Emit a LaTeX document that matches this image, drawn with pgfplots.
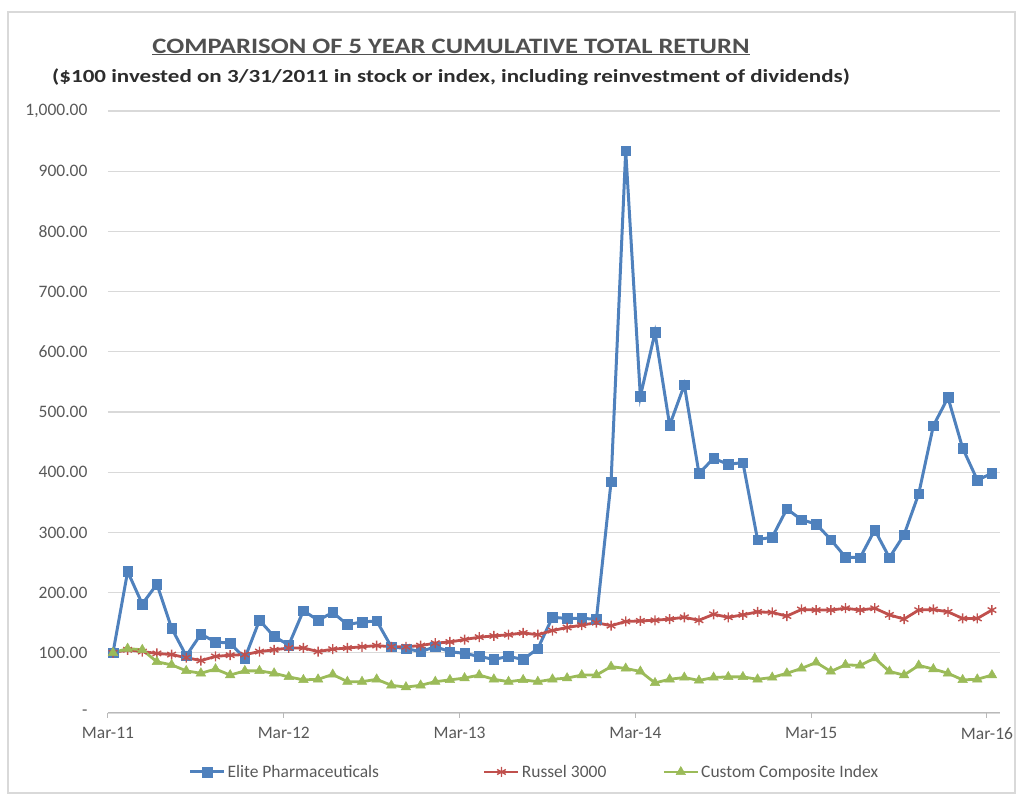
\documentclass[border=0pt]{standalone}
\usepackage{pgfplots}
\pgfplotsset{compat=1.18}
\usepackage{graphicx}
\usepackage{fontspec}
\setmainfont{Carlito}
\definecolor{cblue}{HTML}{4F81BD}
\definecolor{cred}{HTML}{C0504D}
\definecolor{cgreen}{HTML}{9BBB59}
\definecolor{tickgray}{HTML}{595959}
\definecolor{gridgray}{HTML}{D9D9D9}
\begin{document}
\begin{tikzpicture}
\path (-108pt,-82pt) rectangle (913pt,713pt);
\draw[gray!30, line width=1.2pt] (-100pt,-80pt) rectangle (907pt,701pt);
\begin{axis}[
  at={(0pt,0pt)}, anchor=south west,
  scale only axis, width=892pt, height=602pt,
  xmin=-0.34, xmax=60.55, ymin=0, ymax=1000,
  axis lines*=left,
  y axis line style={draw=none},
  x axis line style={color=gray!55, line width=1pt},
  xtick={-0.34,11.66,23.66,35.66,47.66,59.66},
  xticklabels={Mar-11,Mar-12,Mar-13,Mar-14,Mar-15,Mar-16},
  xtick align=outside, major tick length=5pt,
  xtick style={color=gray!55, line width=1pt},
  ytick={0,100,...,1000},
  yticklabels={{-\hspace{11pt}},100.00,200.00,300.00,400.00,500.00,600.00,700.00,800.00,900.00,{1,000.00}},
  ytick style={draw=none},
  ymajorgrids, grid style={gridgray, line width=1.3pt},
  tick label style={font=\fontsize{17.5}{20}\selectfont, text=tickgray},
  yticklabel style={xshift=-17pt},
  xticklabel style={yshift=-6pt},
  legend columns=3,
  legend style={at={(0.478,-0.098)}, anchor=center, draw=none, fill=none,
    font=\fontsize{17.5}{20}\selectfont, text=tickgray,
    /tikz/every even column/.append style={column sep=54pt}},
  legend image code/.code={\draw[#1, mark repeat=2, mark phase=2] plot coordinates {(0pt,0pt) (17pt,0pt) (34pt,0pt)};},
]
\addplot[cblue, line width=3pt, mark=square*, mark size=4.8pt, mark options={solid, line width=0.5pt}] coordinates {
(0,100)(1,235)(2,181)(3,214)(4,141)(5,95)(6,131)(7,118)(8,116)(9,91)
(10,154)(11,127)(12,113)(13,170)(14,154)(15,167)(16,147)(17,151)(18,153)(19,110)
(20,107)(21,102)(22,110)(23,102)(24,99)(25,94)(26,89)(27,94)(28,89)(29,107)
(30,159)(31,157)(32,157)(33,156)(34,384)(35,934)(36,526)(37,632)(38,478)(39,545)
(40,398)(41,423)(42,413)(43,416)(44,288)(45,292)(46,339)(47,321)(48,314)(49,288)
(50,259)(51,258)(52,304)(53,258)(54,296)(55,364)(56,477)(57,524)(58,440)(59,387)
(60,398)};
\addlegendentry{Elite Pharmaceuticals\hspace*{48pt}}
\addplot[cred, line width=2.8pt, mark=asterisk, mark size=5pt, mark options={solid, line width=1.4pt}] coordinates {
(0,100)(1,105)(2,102)(3,99)(4,97)(5,92)(6,87)(7,94)(8,96)(9,97)
(10,102)(11,105)(12,108)(13,108)(14,102)(15,106)(16,108)(17,110)(18,112)(19,110)
(20,110)(21,112)(22,116)(23,118)(24,122)(25,126)(26,128)(27,130)(28,133)(29,130)
(30,137)(31,142)(32,146)(33,150)(34,145)(35,152)(36,153)(37,154)(38,156)(39,159)
(40,154)(41,164)(42,159)(43,163)(44,168)(45,167)(46,161)(47,172)(48,171)(49,171)
(50,174)(51,171)(52,174)(53,163)(54,156)(55,171)(56,172)(57,168)(58,157)(59,157)
(60,171)};
\addlegendentry{Russel 3000}
\addplot[cgreen, line width=2.8pt, mark=triangle*, mark size=5.5pt, mark options={solid, line width=0.5pt}] coordinates {
(0,100)(1,107)(2,105)(3,85)(4,80)(5,70)(6,66)(7,73)(8,63)(9,70)
(10,70)(11,66)(12,60)(13,55)(14,56)(15,64)(16,52)(17,52)(18,56)(19,46)
(20,43)(21,46)(22,52)(23,55)(24,58)(25,63)(26,56)(27,52)(28,55)(29,52)
(30,56)(31,58)(32,63)(33,63)(34,77)(35,74)(36,69)(37,50)(38,56)(39,59)
(40,54)(41,59)(42,60)(43,60)(44,56)(45,59)(46,66)(47,74)(48,84)(49,69)
(50,80)(51,79)(52,91)(53,69)(54,63)(55,79)(56,73)(57,66)(58,55)(59,56)
(60,63)};
\addlegendentry{Custom Composite Index}
\end{axis}
\node[font=\bfseries\fontsize{22}{26}\selectfont, text={rgb,255:red,80;green,80;blue,80}] at (343pt,666pt) {\scalebox{1.21}[1]{\underline{COMPARISON OF 5 YEAR CUMULATIVE TOTAL RETURN}}};
\node[font=\bfseries\fontsize{18.5}{22}\selectfont, text={rgb,255:red,45;green,45;blue,45}] at (343pt,636pt) {\scalebox{1.245}[1]{(\$100 invested on 3/31/2011 in stock or index, including reinvestment of dividends)}};
\end{tikzpicture}
\end{document}
